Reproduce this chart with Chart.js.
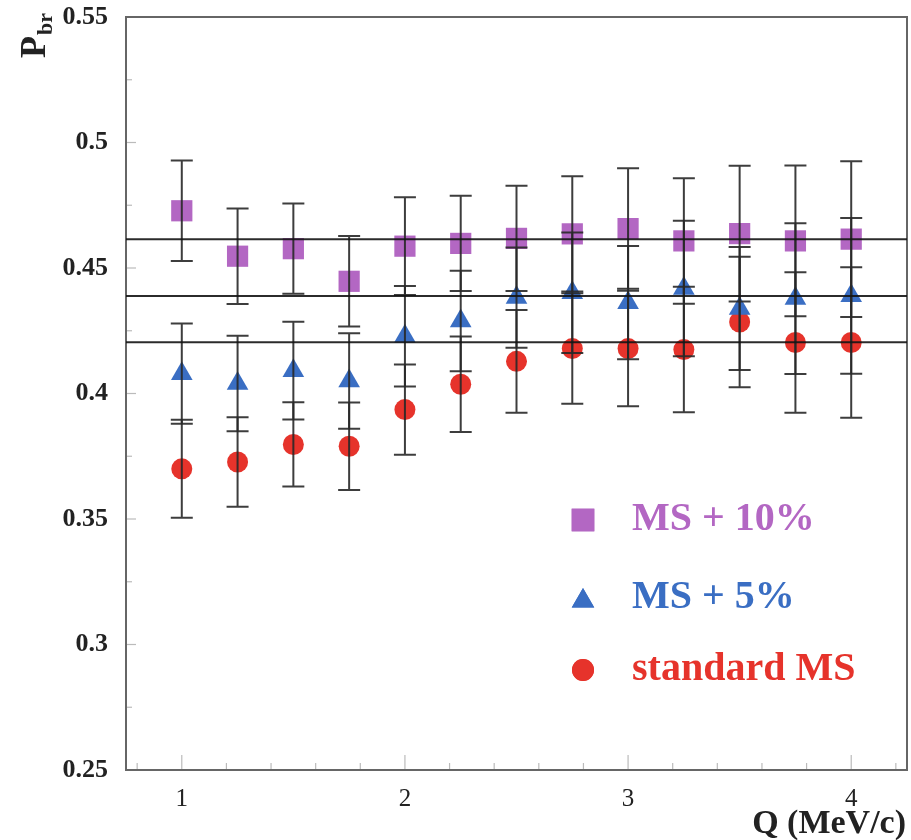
<!DOCTYPE html>
<html>
<head>
<meta charset="utf-8">
<script src="https://cdn.jsdelivr.net/npm/chart.js@4.4.0/dist/chart.umd.min.js"></script>
<style>
html, body { margin: 0; padding: 0; background: #fff; overflow: hidden; }
#wrap { width: 911px; height: 840px; overflow: hidden; }
#pbrChart { display: block; width: 911px; height: 840px; }
</style>
</head>
<body>
<div id="wrap"><canvas id="pbrChart" width="911" height="840"></canvas></div>
<script>
// Q values (MeV/c)
const qValues = [1, 1.25, 1.5, 1.75, 2, 2.25, 2.5, 2.75, 3, 3.25, 3.5, 3.75, 4]

// P_br for each multiple scattering setting, with errors
const ms10 = [0.4728, 0.4547, 0.4577, 0.4447, 0.4587, 0.4598, 0.4618, 0.4636, 0.4657, 0.4608, 0.4637, 0.4608, 0.4615]
const ms10Err = [0.020, 0.019, 0.018, 0.018, 0.0195, 0.019, 0.021, 0.023, 0.024, 0.025, 0.027, 0.030, 0.031]
const ms5 = [0.4079, 0.4040, 0.4091, 0.4050, 0.4228, 0.4289, 0.4382, 0.4401, 0.4362, 0.4418, 0.4339, 0.4378, 0.4389]
const ms5Err = [0.020, 0.019, 0.0195, 0.019, 0.020, 0.020, 0.020, 0.024, 0.0226, 0.027, 0.0245, 0.030, 0.031]
const msStd = [0.3700, 0.3727, 0.3797, 0.3790, 0.3936, 0.4037, 0.4128, 0.4179, 0.4179, 0.4175, 0.4285, 0.4203, 0.4203]
const msStdErr = [0.0195, 0.0178, 0.0168, 0.0174, 0.018, 0.019, 0.0205, 0.022, 0.023, 0.025, 0.026, 0.028, 0.030]

// horizontal reference lines (fitted averages)
const refLines = [0.4615, 0.4388, 0.4204]

const xTicks = [1, 2, 3, 4]
const yTicks = [0.25, 0.3, 0.35, 0.4, 0.45, 0.5, 0.55]
const yTickLabels = ['0.25', '0.3', '0.35', '0.4', '0.45', '0.5', '0.55']
const legendLabels = ['MS + 10%', 'MS + 5%', 'standard MS']
const xTitle = 'Q (MeV/c)'

const purple = '#b367c3'
const blue = '#3a6ec3'
const red = '#e6332b'
const serif = '"Liberation Serif", "DejaVu Serif", serif'

const toPoints = (vals) => qValues.map((q, i) => ({x: q, y: vals[i]}))

// frame and small inner ticks
const framePlugin = {
    id: 'frame',
    beforeDatasetsDraw(chart) {
        const {ctx, chartArea: a, scales} = chart
        const xs = scales.x, ys = scales.y
        ctx.save()
        ctx.strokeStyle = '#bbb'
        ctx.lineWidth = 1.2
        for (let k = 4; k <= 21; k++) {
            const v = k / 5
            const px = xs.getPixelForValue(v)
            const len = (k % 5 === 0) ? 15 : 7
            ctx.beginPath(); ctx.moveTo(px, a.bottom); ctx.lineTo(px, a.bottom - len); ctx.stroke()
        }
        for (let k = 0; k <= 12; k++) {
            const v = 0.25 + k * 0.025
            const py = ys.getPixelForValue(v)
            const len = (k % 2 === 0) ? 10 : 6
            ctx.beginPath(); ctx.moveTo(a.left, py); ctx.lineTo(a.left + len, py); ctx.stroke()
        }
        ctx.strokeStyle = '#666'
        ctx.lineWidth = 2
        ctx.strokeRect(a.left, a.top, a.right - a.left, a.bottom - a.top)
        ctx.restore()
    }
}

// error bars and reference lines on top of the markers
const errorPlugin = {
    id: 'errors',
    afterDatasetsDraw(chart) {
        const {ctx, chartArea: a, scales} = chart
        const xs = scales.x, ys = scales.y
        const sets = [[ms10, ms10Err], [ms5, ms5Err], [msStd, msStdErr]]
        ctx.save()
        ctx.strokeStyle = 'rgba(40,40,40,0.9)'
        ctx.lineWidth = 2
        sets.forEach(([vals, errs]) => {
            vals.forEach((v, i) => {
                const px = xs.getPixelForValue(qValues[i])
                const top = ys.getPixelForValue(v + errs[i])
                const bot = ys.getPixelForValue(v - errs[i])
                ctx.beginPath()
                ctx.moveTo(px, top); ctx.lineTo(px, bot)
                ctx.moveTo(px - 11, top); ctx.lineTo(px + 11, top)
                ctx.moveTo(px - 11, bot); ctx.lineTo(px + 11, bot)
                ctx.stroke()
            })
        })
        ctx.strokeStyle = 'rgba(20,20,20,0.9)'
        refLines.forEach(v => {
            const py = ys.getPixelForValue(v)
            ctx.beginPath(); ctx.moveTo(a.left, py); ctx.lineTo(a.right, py); ctx.stroke()
        })
        ctx.restore()
    }
}

// legend inside the plot, axis titles
const legendPlugin = {
    id: 'innerLegend',
    afterDraw(chart) {
        const ctx = chart.ctx
        const a = chart.chartArea
        const rows = [
            {style: 'rect', r: 16, color: purple, y: 520},
            {style: 'triangle', r: 13, color: blue, y: 598},
            {style: 'circle', r: 11, color: red, y: 670}
        ]
        ctx.save()
        rows.forEach((row, i) => {
            ctx.fillStyle = row.color
            Chart.helpers.drawPoint(ctx, {pointStyle: row.style, radius: row.r, borderWidth: 0}, 583, row.style === 'triangle' ? row.y + 3 : row.y)
            ctx.fill()
            ctx.font = 'bold 40px ' + serif
            ctx.textBaseline = 'middle'
            ctx.textAlign = 'left'
            ctx.fillText(legendLabels[i], 632, row.y)
        })

        ctx.fillStyle = '#222'
        ctx.font = 'bold 34px ' + serif
        ctx.textAlign = 'right'
        ctx.textBaseline = 'alphabetic'
        ctx.fillText(xTitle, a.right - 1, 833)

        ctx.translate(45, 58)
        ctx.rotate(-Math.PI / 2)
        ctx.textAlign = 'left'
        ctx.font = 'bold 36px ' + serif
        ctx.fillText('P', 0, 0)
        const w = ctx.measureText('P').width
        ctx.font = 'bold 22px ' + serif
        ctx.fillText('br', w + 1, 7)
        ctx.restore()
    }
}

new Chart('pbrChart', {
    type: 'scatter',
    data: {
        datasets: [{
            label: legendLabels[0],
            data: toPoints(ms10),
            pointStyle: 'rect',
            pointRadius: 15,
            backgroundColor: purple,
            borderWidth: 0
        }, {
            label: legendLabels[1],
            data: toPoints(ms5),
            pointStyle: 'triangle',
            pointRadius: 12.5,
            backgroundColor: blue,
            borderWidth: 0
        }, {
            label: legendLabels[2],
            data: toPoints(msStd),
            pointStyle: 'circle',
            pointRadius: 10.5,
            backgroundColor: red,
            borderWidth: 0
        }]
    },
    options: {
        responsive: false,
        animation: false,
        events: [],
        layout: {autoPadding: false, padding: {top: 17, right: 4, left: 0, bottom: 0}},
        plugins: {legend: {display: false}, tooltip: {enabled: false}},
        scales: {
            x: {
                type: 'linear',
                min: 0.75,
                max: 4.25,
                afterBuildTicks: s => { s.ticks = xTicks.map(v => ({value: v})) },
                afterFit: s => { s.height = 70; s.paddingLeft = 0; s.paddingRight = 0 },
                grid: {display: false},
                border: {display: false},
                ticks: {color: '#222', padding: 6, font: {family: serif, size: 25}}
            },
            y: {
                min: 0.25,
                max: 0.55,
                afterBuildTicks: s => { s.ticks = yTicks.map(v => ({value: v})) },
                afterFit: s => { s.width = 126; s.paddingTop = 0; s.paddingBottom = 0 },
                grid: {display: false},
                border: {display: false},
                ticks: {
                    color: '#222',
                    padding: 10,
                    font: {family: serif, size: 26, weight: 'bold'},
                    callback: v => yTickLabels[yTicks.indexOf(v)]
                }
            }
        }
    },
    plugins: [framePlugin, errorPlugin, legendPlugin]
})
</script>
</body>
</html>
